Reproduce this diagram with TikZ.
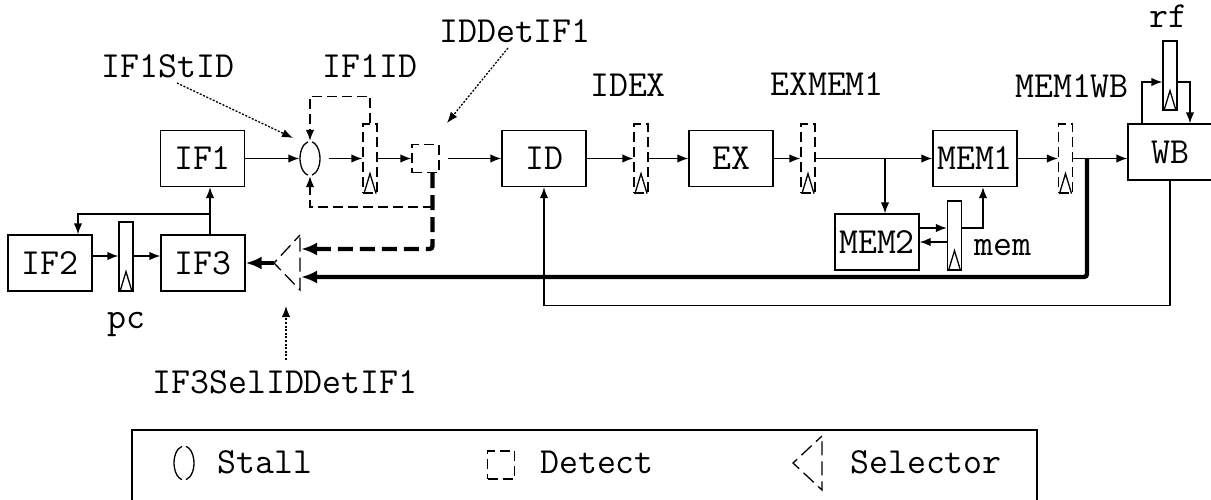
\documentclass[tikz,border=0pt]{standalone}
\usepackage{fontspec}
\usetikzlibrary{arrows.meta,calc}
\begin{document}
\begin{tikzpicture}[x=0.5pt,y=-0.5pt,
  font=\ttfamily\fontsize{18.4pt}{21pt}\selectfont,
  line width=0.65pt,
  box/.style={draw, minimum width=42pt, minimum height=28pt, inner sep=0pt},
  reg/.style={draw, minimum width=7pt, minimum height=34.5pt, inner sep=0pt},
  dsh/.style={dash pattern=on 5pt off 2.5pt},
  dreg/.style={reg, dsh},
  ar/.style={-{Latex[length=5.5pt,width=4.2pt]}},
  thk/.style={line width=2.2pt, -{Latex[length=8pt,width=6.5pt]}},
  dots/.style={dash pattern=on 1pt off 0.8pt, -{Latex[length=5.5pt,width=4.2pt]}},
  lbl/.style={anchor=base, inner sep=0pt},
  stallnd/.style={minimum width=10pt, minimum height=17pt, inner sep=0pt},
  detnd/.style={draw, dsh, minimum width=13.5pt, minimum height=14pt, inner sep=0pt},
]
\useasboundingbox (0,0) rectangle (1211,499);
\newcommand\regtri[1]{\draw[solid] ([xshift=0.8pt]#1.south west) -- ([yshift=10pt]#1.south) -- ([xshift=-0.8pt]#1.south east);}
\newcommand\stallarcs[1]{%
  \draw ([shift={(102:5pt and 8.5pt)}]#1.center) arc[start angle=102, end angle=258, x radius=5pt, y radius=8.5pt];
  \draw ([shift={(-78:5pt and 8.5pt)}]#1.center) arc[start angle=-78, end angle=78, x radius=5pt, y radius=8.5pt];}

% boxes
\node[box] (IF1) at (202.5,158.5) {IF1};
\node[box] (IF2) at (50,263) {IF2};
\node[box] (IF3) at (203,263) {IF3};
\node[reg] (pc) at (126,256.5) {};
\node[box] (ID) at (544,158.5) {ID};
\node[dreg] (IF1ID) at (370,158.5) {};
\node[dreg] (IDEX) at (641,158.5) {};
\node[box] (EX) at (731,158.5) {EX};
\node[dreg] (EXMEM1) at (808,158.5) {};
\node[box] (MEM1) at (975,158.5) {MEM1};
\node[box] (MEM2) at (877,242) {MEM2};
\node[reg] (mem) at (954.5,235.5) {};
\node[dreg] (MEM1WB) at (1065.5,158.5) {};
\node[box] (WB) at (1170,152) {WB\hspace{7pt}};
\node[reg] (rf) at (1170,75.5) {};
\foreach \r in {pc,IF1ID,IDEX,EXMEM1,mem,MEM1WB,rf}{\regtri{\r}}

% stall and detect
\node[stallnd] (st) at (310,158.5) {};
\stallarcs{st}
\node[detnd] (det) at (425.5,158.5) {};

% selector
\coordinate (selL) at (274,263);
\coordinate (selT) at (300,235);
\coordinate (selBt) at (300,290);
\coordinate (selA) at (301,249);
\coordinate (selB) at (301,277);
\draw[dash pattern=on 7pt off 3pt, dash phase=3pt] (selT) -- (selL) -- (selBt) -- cycle;

% labels
\node[lbl] (lIF1StID) at (168,77) {IF1StID};
\node[lbl] (lIF1ID) at (370,77) {IF1ID};
\node[lbl] (lIDDet) at (515,42) {IDDetIF1};
\node[lbl] (lIDEX) at (628,96) {IDEX};
\node[lbl] (lEXMEM1) at (827,95) {EXMEM1};
\node[lbl] (lMEM1WB) at (1072,97) {MEM1WB};
\node[lbl] (lrf) at (1168,27) {rf};
\node[lbl] (lpc) at (126,328) {pc};
\node[lbl] (lmem) at (1003,255) {mem};
\node[lbl] (lsel) at (285,393) {IF3SelIDDetIF1};

% dotted pointers
\coordinate (p1s) at (177,83); \coordinate (p1e) at (293,138);
\coordinate (p2s) at (508,48); \coordinate (p2e) at (447,123);
\coordinate (p3s) at (286,360); \coordinate (p3e) at (286,306);
\draw[dots] (p1s) -- (p1e);
\draw[dots] (p2s) -- (p2e);
\draw[dots] (p3s) -- (p3e);

% main flow
\draw[ar] (IF1.east) -- (st.west);
\draw[ar] ([xshift=4pt]st.east) -- (IF1ID.west);
\draw[ar] (IF1ID.east) -- (det.west);
\draw[ar] ([xshift=4pt]det.east) -- (ID.west);
\draw[ar] (ID.east) -- (IDEX.west);
\draw[ar] (IDEX.east) -- (EX.west);
\draw[ar] (EX.east) -- (EXMEM1.west);
\draw[ar] (EXMEM1.east) -- (MEM1.west);
\coordinate (br) at (885,158.5);
\draw[ar] (br) -- (br |- MEM2.north);
\draw[ar] ([yshift=7pt]MEM2.east) -- ([yshift=7pt]MEM2.east -| mem.west);
\draw[ar] (mem.west |- MEM2.east) -- (MEM2.east);
\draw[ar] ([yshift=7pt]MEM2.east -| mem.east) -| ([xshift=4pt]MEM1.south);
\draw[ar] (MEM1.east) -- (MEM1WB.west);
\draw[ar] (MEM1WB.east) -- (MEM1WB.east -| WB.west);
\draw[ar] ([xshift=-14pt]WB.north) |- ([yshift=-3.25pt]rf.west);
\draw[ar] ([yshift=-3.25pt]rf.east) -| ([xshift=10pt]WB.north);
\draw[ar] (WB.south) -- ++(0,125) -| (ID.south);

% stall loops
\draw[dsh,ar] (IF1ID.north) -- ++(0,-27) -| (st.north);
\coordinate (dj) at (432.5,207);
\draw[dsh,ar] (dj) -| (st.south);

% thick feedback
\draw[thk, dash pattern=on 7.5pt off 3.5pt, rounded corners=1.5pt] ([xshift=3.5pt]det.south) |- (selA);
\coordinate (tap) at (1087,158.5);
\draw[thk, rounded corners=1.5pt] (tap) |- (selB);
\draw[thk] (selL) -- (IF3.east);

% fetch loop
\draw[ar] ([xshift=3.5pt]IF3.north) -- ([xshift=3.5pt]IF3.north |- IF1.south);
\coordinate (j1) at (210,214);
\draw[ar] (j1) -| ([xshift=14pt]IF2.north);
\draw[ar] ([yshift=3.5pt]IF2.east) -- ([yshift=3.5pt]IF2.east -| pc.west);
\draw[ar] ([yshift=3.5pt]IF2.east -| pc.east) -- ([yshift=3.5pt]IF3.west);

% legend
\node[draw, minimum width=452.5pt, minimum height=37pt, inner sep=0pt] (leg) at (584.5,467) {};
\node[stallnd] (lgst) at (184,463) {};
\stallarcs{lgst}
\node[lbl] (tst) at (265,473) {Stall};
\node[detnd] (lgdet) at (501,465) {};
\node[lbl] (tdet) at (597,473) {Detect};
\coordinate (lsL) at (793,463);
\coordinate (lsT) at (822,436);
\coordinate (lsB) at (822,490);
\draw[dash pattern=on 7pt off 3pt, dash phase=3pt] (lsT) -- (lsL) -- (lsB) -- cycle;
\node[lbl] (tsel) at (926,473) {Selector};
\end{tikzpicture}
\end{document}
